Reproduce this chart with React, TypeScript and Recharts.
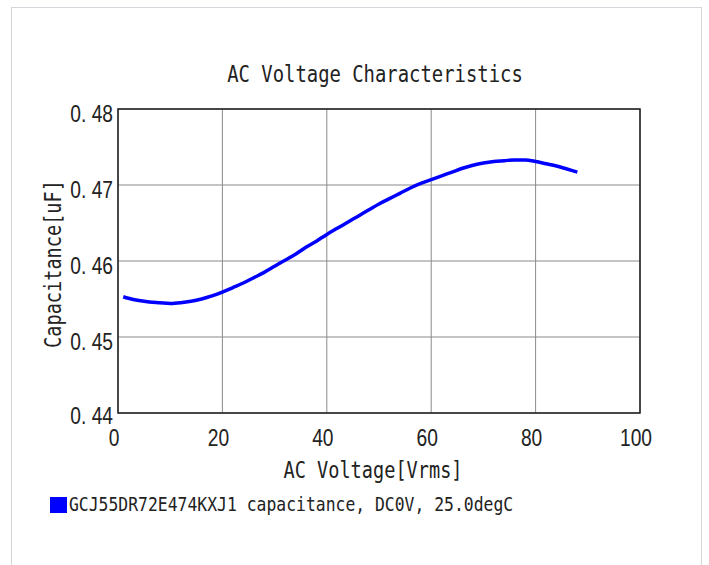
import { LineChart, Line, XAxis, YAxis, CartesianGrid, ReferenceArea } from 'recharts';

const voltage = [
  1, 2, 4, 6, 8, 10, 12, 14, 16, 18, 20, 22, 24, 26, 28, 30, 32, 34, 36, 38, 40, 42, 44,
  46, 48, 50, 52, 54, 56, 58, 60, 62, 64, 66, 68, 70, 72, 74, 76, 78, 80, 82, 84, 86, 88,
];
const capacitance = [
  0.4553, 0.4551, 0.4548, 0.4546, 0.4545, 0.4544, 0.4545, 0.4547, 0.455, 0.4554, 0.4559,
  0.4565, 0.4571, 0.4578, 0.4585, 0.4593, 0.4601, 0.4609, 0.4618, 0.4626, 0.4635, 0.4643,
  0.4651, 0.4659, 0.4667, 0.4675, 0.4682, 0.4689, 0.4696, 0.4702, 0.4707, 0.4712, 0.4717,
  0.4722, 0.4726, 0.4729, 0.4731, 0.4732, 0.4733, 0.4733, 0.4731, 0.4728, 0.4725, 0.4721,
  0.4717,
];
const xTicks = [0, 20, 40, 60, 80, 100];
const yTicks = [0.44, 0.45, 0.46, 0.47, 0.48];

const title = 'AC Voltage Characteristics';
const xLabel = 'AC Voltage[Vrms]';
const yLabel = 'Capacitance[uF]';
const seriesName = 'GCJ55DR72E474KXJ1 capacitance, DC0V, 25.0degC';

const data = voltage.map((v, i) => ({ v, c: capacitance[i] }));

const tickFont = "'Liberation Sans', Arial, sans-serif";
const monoFont = "'DejaVu Sans Mono', monospace";

// narrow, tall digits like the original
const renderXTick = (props: any) => {
  const { x, y, payload } = props;
  return (
    <text
      key={`x-${payload.value}`}
      transform={`translate(${x - 4},${y + 33}) scale(0.8,1)`}
      textAnchor="middle"
      fontFamily={tickFont}
      fontSize={24}
      fill="#222"
    >
      {payload.value}
    </text>
  );
};

const renderYTick = (props: any) => {
  const { x, y, payload } = props;
  const label = Number(payload.value).toFixed(2).replace('.', '. ');
  const dy = payload.value === 0.44 ? 11 : 13;
  return (
    <text
      key={`y-${payload.value}`}
      transform={`translate(${x - 5},${y + dy}) scale(0.8,1)`}
      textAnchor="end"
      fontFamily={tickFont}
      fontSize={24}
      fill="#222"
    >
      {label}
    </text>
  );
};

function MonoText({ x, y, size, rotate = 0, anchor = 'middle', children }: any) {
  return (
    <text
      transform={`translate(${x},${y}) rotate(${rotate}) scale(1,1.2)`}
      textAnchor={anchor}
      fontFamily={monoFont}
      fontSize={size}
      fill="#222"
    >
      {children}
    </text>
  );
}

export default function App() {
  return (
    <div style={{ position: 'absolute', left: 0, top: 0, width: 709, height: 565, overflow: 'hidden', background: '#fff' }}>
      <div
        style={{
          position: 'absolute',
          left: 11,
          top: 7,
          width: 689,
          height: 600,
          border: '1px solid #d3d7db',
        }}
      />
      <div style={{ position: 'absolute', left: 0, top: 0 }}>
        <LineChart width={709} height={565} data={data} margin={{ top: 109, right: 69, bottom: 112, left: 58 }}>
          <CartesianGrid stroke="#8a8a8a" strokeWidth={1} />
          <XAxis
            dataKey="v"
            type="number"
            domain={[0, 100]}
            ticks={xTicks}
            height={40}
            tickSize={0}
            tickMargin={0}
            axisLine={false}
            tickLine={false}
            tick={renderXTick}
            interval={0}
          />
          <YAxis
            type="number"
            domain={[0.44, 0.48]}
            ticks={yTicks}
            width={60}
            tickSize={0}
            tickMargin={0}
            axisLine={false}
            tickLine={false}
            tick={renderYTick}
            interval={0}
          />
          <ReferenceArea x1={0} x2={100} y1={0.44} y2={0.48} fill="none" stroke="#1e1e1e" strokeWidth={1.5} ifOverflow="visible" />
          <Line
            dataKey="c"
            type="monotone"
            stroke="#0000ff"
            strokeWidth={3.5}
            dot={false}
            isAnimationActive={false}
          />
        </LineChart>
      </div>
      <svg width={709} height={565} style={{ position: 'absolute', left: 0, top: 0, pointerEvents: 'none' }}>
        <MonoText x={375} y={82} size={18.9}>{title}</MonoText>
        <MonoText x={373} y={478} size={18.6}>{xLabel}</MonoText>
        <MonoText x={61} y={264} size={18.6} rotate={-90}>{yLabel}</MonoText>
        <rect x={50} y={497} width={17} height={16} fill="#0000ff" />
        <MonoText x={69} y={511} size={16.4} anchor="start">{seriesName}</MonoText>
      </svg>
    </div>
  );
}
